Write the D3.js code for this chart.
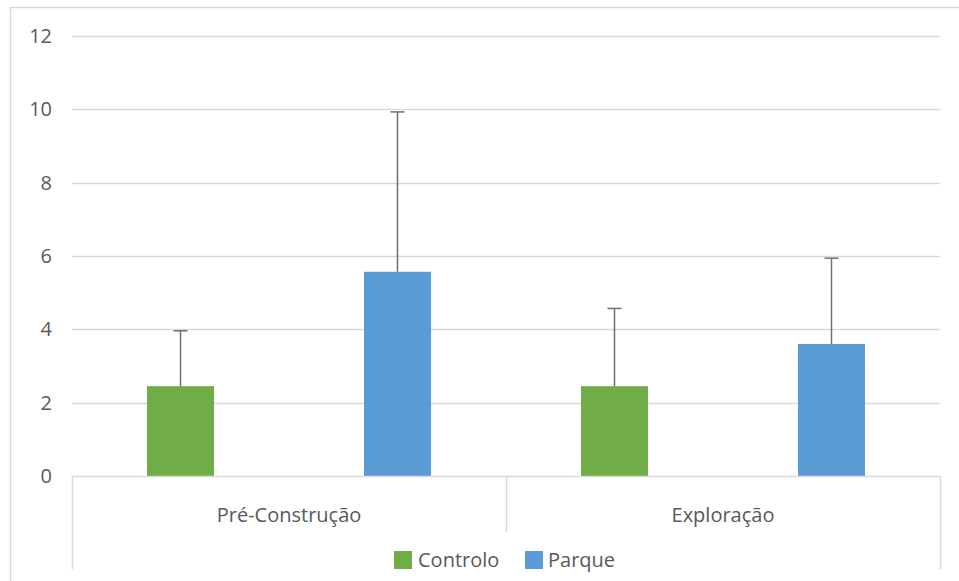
<!DOCTYPE html>
<html>
<head>
<meta charset="utf-8">
<script src="https://cdn.jsdelivr.net/npm/d3@7"></script>
<style>
  html, body { margin: 0; padding: 0; background: #fff; }
  svg { display: block; }
  text { font-family: "Open Sans", "Noto Sans", sans-serif; fill: #595959; }
</style>
</head>
<body>
<svg id="chart" width="959" height="581"></svg>
<script>
const categories = ["Pré-Construção", "Exploração"];
const seriesNames = ["Controlo", "Parque"];
const seriesColors = ["#70ad47", "#5b9bd5"];
const controloValues = [2.45, 2.45];
const parqueValues = [5.57, 3.6];
const controloErrors = [1.51, 2.12];
const parqueErrors = [4.36, 2.34];
const yTicks = [0, 2, 4, 6, 8, 10, 12];

const values = [controloValues, parqueValues];
const errors = [controloErrors, parqueErrors];

const svg = d3.select("#chart");
const W = 959, H = 581;
const plot = { left: 72, right: 940, top: 36, bottom: 476 };
const FS = 20;

// outer chart border (only top & left visible in frame)
svg.append("rect")
  .attr("x", 10.5).attr("y", 7.5)
  .attr("width", W + 20).attr("height", H + 20)
  .attr("fill", "none").attr("stroke", "#d9d9d9").attr("stroke-width", 1.5);

const y = d3.scaleLinear().domain([0, 12]).range([plot.bottom, plot.top]);
const x0 = d3.scaleBand().domain(categories).range([plot.left, plot.right]).padding(0);
const x1 = d3.scalePoint().domain(seriesNames).range([0, x0.bandwidth()]).padding(0.5);
const barW = 67;

// gridlines
svg.append("g").selectAll("line").data(yTicks.filter(d => d !== 0)).join("line")
  .attr("x1", plot.left).attr("x2", plot.right)
  .attr("y1", d => Math.round(y(d)) + 0.5).attr("y2", d => Math.round(y(d)) + 0.5)
  .attr("stroke", "#d9d9d9").attr("stroke-width", 1.5);

// y labels
svg.append("g").selectAll("text").data(yTicks).join("text")
  .attr("x", 52).attr("y", d => y(d))
  .attr("dy", "0.35em")
  .attr("text-anchor", "end")
  .attr("font-size", FS)
  .text(d => d);

// bars
seriesNames.forEach((s, si) => {
  const g = svg.append("g");
  g.selectAll("rect").data(categories).join("rect")
    .attr("x", c => x0(c) + x1(s) - barW / 2)
    .attr("y", (c, i) => y(values[si][i]))
    .attr("width", barW)
    .attr("height", (c, i) => y(0) - y(values[si][i]))
    .attr("fill", seriesColors[si]);
  // error bars
  g.selectAll("line.err").data(categories).join("line")
    .attr("class", "err")
    .attr("x1", c => x0(c) + x1(s)).attr("x2", c => x0(c) + x1(s))
    .attr("y1", (c, i) => y(values[si][i]))
    .attr("y2", (c, i) => y(values[si][i] + errors[si][i]))
    .attr("stroke", "#6f6f6f").attr("stroke-width", 1.5);
  g.selectAll("line.cap").data(categories).join("line")
    .attr("class", "cap")
    .attr("x1", c => x0(c) + x1(s) - 7).attr("x2", c => x0(c) + x1(s) + 7)
    .attr("y1", (c, i) => y(values[si][i] + errors[si][i]))
    .attr("y2", (c, i) => y(values[si][i] + errors[si][i]))
    .attr("stroke", "#6f6f6f").attr("stroke-width", 1.5);
});

// category axis baseline
svg.append("line")
  .attr("x1", plot.left).attr("x2", plot.right)
  .attr("y1", y(0) + 0.5).attr("y2", y(0) + 0.5)
  .attr("stroke", "#d9d9d9").attr("stroke-width", 1.5);

// category separators
const bounds = [plot.left, x0(categories[1]), plot.right];
svg.append("g").selectAll("line").data(bounds).join("line")
  .attr("x1", d => Math.round(d) + 0.5).attr("x2", d => Math.round(d) + 0.5)
  .attr("y1", y(0)).attr("y2", (d, i) => (i === 1 ? 532 : 569))
  .attr("stroke", "#d9d9d9").attr("stroke-width", 1.5);

// category labels
svg.append("g").selectAll("text").data(categories).join("text")
  .attr("x", c => x0(c) + x0.bandwidth() / 2)
  .attr("y", 515)
  .attr("dy", "0.35em")
  .attr("text-anchor", "middle")
  .attr("font-size", FS)
  .text(c => c);

// legend
const legendItems = [{ x: 394, tx: 418 }, { x: 525, tx: 548 }];
seriesNames.forEach((s, i) => {
  svg.append("rect")
    .attr("x", legendItems[i].x).attr("y", 551)
    .attr("width", 18).attr("height", 18)
    .attr("fill", seriesColors[i]);
  svg.append("text")
    .attr("x", legendItems[i].tx).attr("y", 560)
    .attr("dy", "0.35em")
    .attr("font-size", FS)
    .text(s);
});
</script>
</body>
</html>
